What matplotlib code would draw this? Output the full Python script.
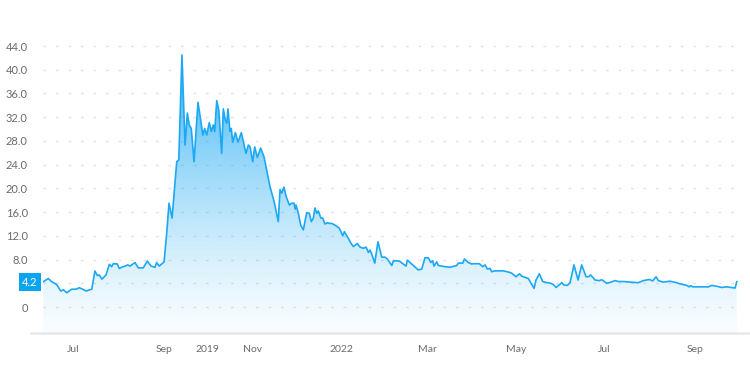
import numpy as np
import pandas as pd
import matplotlib
matplotlib.use("Agg")
import matplotlib.pyplot as plt

# ------------------------------------------------------------
# data (days after 2021-06-10, price)
# ------------------------------------------------------------
start = pd.Timestamp("2021-06-10")

days = [0.2, 3.6, 6.0, 9.4, 12.2, 14.0, 16.3, 19.7, 22.7, 24.9, 27.3, 29.6, 33.5,
        35.7, 37.3, 38.7, 40.5, 43.3, 45.6, 47.2, 48.3, 51.1, 52.4, 54.1, 56.4,
        58.2, 59.8, 63.2, 65.5, 68.9, 71.7, 74.2, 77.0, 78.1, 79.9, 81.6, 83.2,
        85.0, 86.6, 88.7, 90.7, 91.9, 93.3, 95.5, 97.6, 99.2, 100.5, 101.9, 103.8,
        106.5, 108.4, 109.8, 111.1, 112.5, 114.3, 115.7, 117.0, 118.0, 119.4,
        120.8, 122.8, 123.9, 125.3, 126.3, 127.1, 128.5, 129.4, 130.4, 132.2,
        134.0, 136.3, 138.1, 139.5, 141.1, 142.3, 144.1, 145.5, 147.3, 149.6,
        151.9, 153.7, 156.0, 158.8, 161.7, 162.9, 164.1, 165.6, 167.0, 169.3,
        170.9, 172.5, 173.4, 173.9, 175.5, 177.1, 178.9, 181.2, 183.0, 184.4,
        185.8, 186.9, 188.1, 189.2, 190.9, 192.2, 193.8, 195.4, 196.8, 198.4,
        200.7, 203.6, 206.0, 207.1, 209.8, 211.5, 213.3, 216.0, 217.9, 220.1,
        222.0, 223.6, 224.7, 226.1, 228.0, 230.2, 232.8, 235.1, 236.6, 239.7,
        240.8, 244.9, 249.5, 250.4, 252.2, 255.0, 257.9, 260.3, 262.5, 264.8,
        266.5, 267.8, 268.7, 270.6, 271.7, 276.3, 279.7, 284.3, 285.4, 288.5,
        289.6, 292.3, 294.6, 295.7, 299.9, 302.2, 303.8, 305.4, 307.2, 308.4,
        310.7, 316.4, 319.8, 322.1, 325.1, 327.4, 329.0, 331.3, 333.5, 335.2,
        337.5, 338.8, 341.1, 343.4, 345.7, 348.9, 350.7, 352.6, 354.6, 356.5,
        358.1, 360.3, 362.2, 364.9, 367.7, 370.2, 373.2, 374.8, 376.4, 379.4,
        382.3, 384.0, 387.4, 389.7, 393.1, 395.4, 398.8, 403.4, 409.1, 412.6,
        416.7, 419.0, 421.3, 422.9, 426.3, 430.9, 435.5, 437.8, 442.4, 444.2,
        445.2, 446.5, 457.3, 459.6, 463.0, 466.5, 469.9, 475.6, 476.8]

price = [4.27, 4.8, 4.27, 3.8, 2.7, 2.9, 2.4, 3.0, 3.0, 3.25, 3.0, 2.7, 3.0,
         6.07, 5.3, 5.4, 4.7, 5.4, 7.2, 6.8, 7.3, 7.25, 6.5, 6.7, 6.9,
         7.1, 6.9, 7.5, 6.6, 6.6, 7.75, 6.9, 6.7, 7.5, 6.9, 7.25, 7.6,
         12.4, 17.5, 15.0, 20.9, 24.5, 24.8, 42.5, 27.3, 32.7, 30.7, 30.1, 24.5,
         34.5, 31.5, 29.0, 30.1, 29.0, 31.1, 29.6, 30.7, 29.6, 34.8,
         33.2, 25.9, 33.4, 31.5, 31.0, 33.4, 29.6, 30.1, 27.8, 29.4,
         27.8, 29.4, 27.4, 25.9, 27.3, 27.0, 24.5, 27.0, 25.2, 26.8,
         25.3, 23.1, 20.3, 17.8, 14.4, 19.8, 19.2, 20.2, 18.7, 17.2,
         17.5, 17.5, 16.5, 17.2, 15.8, 13.8, 13.0, 15.9, 15.8, 14.4,
         15.0, 16.7, 15.8, 16.2, 15.0, 15.0, 14.0, 14.2, 14.1, 14.1,
         13.8, 13.3, 12.0, 12.7, 11.6, 10.8, 10.2, 10.7, 10.1, 9.9,
         10.1, 9.2, 9.6, 8.8, 7.4, 11.0, 8.4, 8.4, 8.1, 7.0,
         7.8, 7.75, 6.9, 7.9, 7.5, 6.9, 6.25, 6.4, 8.3, 8.3,
         7.5, 7.8, 6.9, 7.6, 7.0, 6.8, 6.7, 7.0, 7.4, 7.4,
         8.1, 7.5, 7.25, 7.3, 7.3, 6.8, 7.1, 6.4, 6.5, 5.95,
         6.1, 6.1, 5.9, 5.7, 5.1, 5.6, 5.2, 5.0, 4.8, 4.1,
         3.15, 4.55, 5.6, 4.3, 4.15, 4.0, 3.8, 3.3, 3.7, 4.1,
         3.7, 3.65, 4.1, 7.1, 4.55, 7.1, 5.1, 5.1, 5.4, 4.55,
         4.45, 4.6, 4.0, 4.15, 4.45, 4.3, 4.3, 4.2, 4.1, 4.45,
         4.65, 4.4, 5.1, 4.45, 4.2, 4.35, 4.1, 3.9, 3.65, 3.4,
         3.6, 3.4, 3.4, 3.65, 3.5, 3.3, 3.4, 3.2, 4.27]

tick_dates = ["2021-07-01", "2021-09-01", "2021-10-01", "2021-11-01", "2022-01-01",
              "2022-03-01", "2022-05-01", "2022-07-01", "2022-09-01"]
tick_labels = ["Jul", "Sep", "2019", "Nov", "2022", "Mar", "May", "Jul", "Sep"]

y_ticks = [0, 4, 8, 12, 16, 20, 24, 28, 32, 36, 40, 44]
current_value = 4.2

# ------------------------------------------------------------
# plot
# ------------------------------------------------------------
LINE = "#1ba8f4"
GRID = "#e3e3e3"
TEXT = "#6b6b6b"
plt.rcParams["font.family"] = ["Lato", "DejaVu Sans"]

x = np.array(days)
y = np.array(price)
xmin, xmax = 0, 479
ymin, ymax = -4.38, 46.7

fig = plt.figure(figsize=(7.5, 3.78), dpi=100)
ax = fig.add_axes([43 / 750, 45 / 378, 697 / 750, 303 / 378])
ax.set_xlim(xmin, xmax)
ax.set_ylim(ymin, ymax)

# gradient fill under the line
grad = np.linspace(0, 1, 256)[:, None]  # 0 at bottom, 1 at top
alpha = 0.03 + 0.85 * grad ** 1.3
rgba = np.zeros((256, 1, 4))
rgba[..., 0] = 27 / 255
rgba[..., 1] = 168 / 255
rgba[..., 2] = 244 / 255
rgba[..., 3] = alpha
img = ax.imshow(rgba, aspect="auto", origin="lower",
                extent=[xmin, xmax, ymin, 44], zorder=1)
poly = ax.fill_between(x, y, ymin, facecolor="none", edgecolor="none")
clip = plt.Polygon(np.vstack([np.column_stack([x, y]),
                              [[x[-1], ymin], [x[0], ymin]]]),
                   closed=True, transform=ax.transData)
img.set_clip_path(clip)

ax.plot(x, y, color=LINE, lw=1.2, zorder=3)

# grid
for t in y_ticks:
    ax.axhline(t, color=GRID, lw=1.0, dashes=(2, 7), zorder=0)

# bottom base line, a bit wider than the plot
ax.axhline(ymin, xmin=-12 / 697, xmax=707 / 697, color="#e8e8e8", lw=1.8,
           clip_on=False, zorder=2)

for s in ax.spines.values():
    s.set_visible(False)

ax.set_yticks(y_ticks)
ax.set_yticklabels(["0", ""] + [f"{v:.1f}" for v in y_ticks[2:]])
ax.tick_params(axis="y", length=0, pad=11, labelsize=8, labelcolor=TEXT)

tick_pos = [(pd.Timestamp(d) - start).days for d in tick_dates]
ax.set_xticks(tick_pos)
ax.set_xticklabels(tick_labels)
ax.tick_params(axis="x", length=0, pad=9, labelsize=7.5, labelcolor=TEXT)

# current value marker
ax.text(-0.0075, current_value, f"{current_value}", transform=ax.get_yaxis_transform(),
        ha="right", va="center", color="white", fontsize=8,
        bbox=dict(boxstyle="square,pad=0.3", fc="#0aa4f0", ec="none"))
ax.get_yticklabels()

fig.savefig("out.png", dpi=100)
